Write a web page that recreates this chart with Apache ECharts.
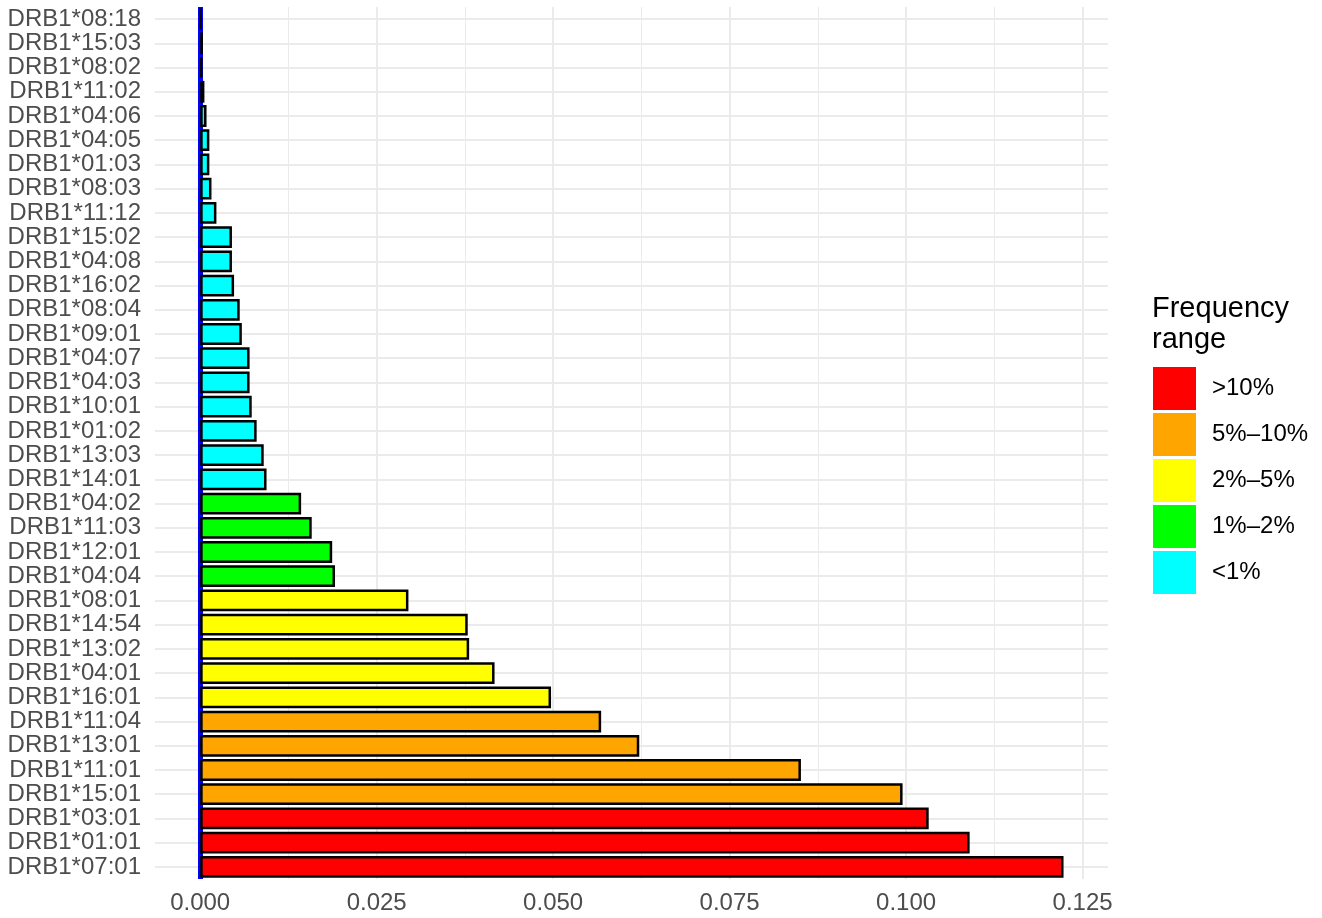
<!DOCTYPE html>
<html>
<head>
<meta charset="utf-8">
<title>DRB1 allele frequency</title>
<script src="https://cdn.jsdelivr.net/npm/echarts@6/dist/echarts.min.js"></script>
</head>
<body style="margin:0;background:#fff">
<div id="main" style="width:1322px;height:918px;"></div>
<script type="text/javascript">
// alleles listed top to bottom, as in the picture
var alleles = ['DRB1*08:18', 'DRB1*15:03', 'DRB1*08:02', 'DRB1*11:02', 'DRB1*04:06', 'DRB1*04:05',
    'DRB1*01:03', 'DRB1*08:03', 'DRB1*11:12', 'DRB1*15:02', 'DRB1*04:08', 'DRB1*16:02',
    'DRB1*08:04', 'DRB1*09:01', 'DRB1*04:07', 'DRB1*04:03', 'DRB1*10:01', 'DRB1*01:02',
    'DRB1*13:03', 'DRB1*14:01', 'DRB1*04:02', 'DRB1*11:03', 'DRB1*12:01', 'DRB1*04:04',
    'DRB1*08:01', 'DRB1*14:54', 'DRB1*13:02', 'DRB1*04:01', 'DRB1*16:01', 'DRB1*11:04',
    'DRB1*13:01', 'DRB1*11:01', 'DRB1*15:01', 'DRB1*03:01', 'DRB1*01:01', 'DRB1*07:01'];
var freqs = [0.0001, 0.0004, 0.0003, 0.0006, 0.0009, 0.0013,
    0.0013, 0.0016, 0.0023, 0.0045, 0.0045, 0.0048,
    0.0056, 0.0059, 0.0070, 0.0070, 0.0073, 0.0080,
    0.0090, 0.0094, 0.0143, 0.0158, 0.0187, 0.0191,
    0.0295, 0.0379, 0.0381, 0.0417, 0.0497, 0.0568,
    0.0622, 0.0851, 0.0995, 0.1032, 0.1090, 0.1223];

var rangeNames = ['>10%', '5%\u201310%', '2%\u20135%', '1%\u20132%', '<1%'];
var rangeColors = ['#FF0000', '#FFA500', '#FFFF00', '#00FF00', '#00FFFF'];
var rangeLower = [0.10, 0.05, 0.02, 0.01, 0];

var xLabels = [0, 0.025, 0.05, 0.075, 0.1, 0.125];
var xMinorGrid = [0.0125, 0.0375, 0.0625, 0.0875, 0.1125];

function rangeOf(v) {
    for (var i = 0; i < rangeLower.length; i++) {
        if (v >= rangeLower[i]) return i;
    }
    return rangeLower.length - 1;
}

var myChart = echarts.init(document.getElementById('main'));

var series = rangeNames.map(function (name, i) {
    return {
        name: name,
        type: 'bar',
        stack: 'freq',
        barCategoryGap: '10%',
        z: 5,
        itemStyle: { color: rangeColors[i], borderColor: '#000', borderWidth: 2.5 },
        data: freqs.map(function (v) { return rangeOf(v) === i ? v : '-'; })
    };
});

// horizontal grid lines through each category, kept under the bars
series.push({
    type: 'line',
    data: [],
    z: 1,
    silent: true,
    markLine: {
        silent: true,
        symbol: 'none',
        animation: false,
        label: { show: false },
        lineStyle: { color: '#EBEBEB', width: 2, type: 'solid' },
        data: alleles.map(function (a) { return { yAxis: a }; })
    }
});

// vertical reference line at zero
series.push({
    type: 'line',
    data: [],
    z: 10,
    silent: true,
    markLine: {
        silent: true,
        symbol: 'none',
        animation: false,
        label: { show: false },
        lineStyle: { color: '#0000FF', width: 5, type: 'solid' },
        data: [{ xAxis: 0 }]
    }
});

var option = {
    animation: false,
    backgroundColor: '#fff',
    textStyle: { fontFamily: '"Liberation Sans", Arial, sans-serif' },
    title: {
        text: 'Frequency\nrange',
        left: 1147,
        top: 288,
        textStyle: { fontSize: 29, fontWeight: 'normal', color: '#000', lineHeight: 31 }
    },
    legend: {
        data: rangeNames,
        orient: 'vertical',
        left: 1153,
        top: 367,
        padding: 0,
        itemWidth: 43,
        itemHeight: 43,
        itemGap: 3,
        icon: 'rect',
        itemStyle: { borderWidth: 0 },
        selectedMode: false,
        textStyle: { fontSize: 24, color: '#000', padding: [5, 0, 0, 11] }
    },
    grid: { left: 155, right: 214, top: 7, bottom: 39 },
    xAxis: [{
        type: 'value',
        min: -0.0064,
        max: 0.1286,
        axisLine: { show: false },
        axisTick: { show: false, customValues: xLabels },
        splitLine: { show: true, lineStyle: { color: '#EBEBEB', width: 2 } },
        axisLabel: {
            customValues: xLabels,
            formatter: function (v) { return v.toFixed(3); },
            fontSize: 24,
            color: '#4D4D4D',
            margin: 12
        }
    }, {
        // second axis only for the minor vertical grid lines
        type: 'value',
        position: 'bottom',
        min: -0.0064,
        max: 0.1286,
        axisLine: { show: false },
        axisTick: { show: false, customValues: xMinorGrid },
        splitLine: { show: true, lineStyle: { color: '#EBEBEB', width: 1 } },
        axisLabel: { show: false, customValues: xMinorGrid }
    }],
    yAxis: {
        type: 'category',
        data: alleles,
        inverse: true,
        axisLine: { show: false },
        axisTick: { show: false },
        splitLine: { show: false },
        axisLabel: { fontSize: 24, color: '#4D4D4D', margin: 14, interval: 0, padding: [4, 0, 0, 0] }
    },
    series: series
};

myChart.setOption(option);
</script>
</body>
</html>
